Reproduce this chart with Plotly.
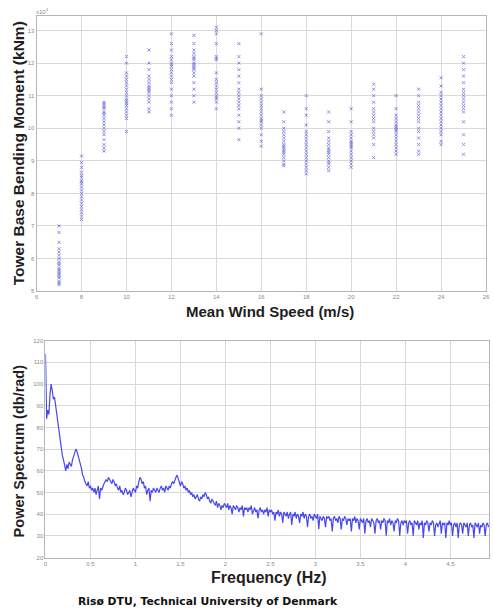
import numpy as np
import plotly.graph_objects as go

# ---- Tower base bending moment (x10^4 kNm) per mean wind speed bin ----
wind_speeds = [7, 8, 9, 10, 11, 12, 13, 14, 15, 16, 17, 18, 19, 20, 21, 22, 23, 24, 25]

moment_7 = [7.0, 6.8, 6.5, 6.3, 6.1, 6.0, 5.9, 5.8, 5.7, 5.6, 5.55, 5.5, 5.4, 5.3, 5.2, 5.25, 5.45, 5.65, 5.85, 6.2]
moment_8 = [9.15, 8.95, 8.8, 8.65, 8.5, 8.4, 8.3, 8.2, 8.1, 8.0, 7.9, 7.8, 7.7, 7.6, 7.5, 7.4, 7.3, 7.2, 8.55, 8.35]
moment_9 = [10.8, 10.75, 10.7, 10.6, 10.5, 10.4, 10.3, 10.2, 10.1, 10.0, 9.9, 9.8, 9.65, 9.5, 9.4, 9.3, 10.65, 10.45]
moment_10 = [12.2, 12.0, 11.7, 11.5, 11.4, 11.3, 11.2, 11.1, 11.0, 10.9, 10.8, 10.75, 10.7, 10.6, 10.5, 10.4, 10.3, 9.9, 11.6, 10.85]
moment_11 = [12.4, 12.0, 11.8, 11.6, 11.5, 11.4, 11.3, 11.2, 11.15, 11.1, 11.0, 10.9, 10.8, 10.6, 10.5, 11.25]
moment_12 = [12.9, 12.6, 12.4, 12.2, 12.1, 12.0, 11.95, 11.9, 11.8, 11.6, 11.4, 11.2, 11.0, 10.8, 10.6, 10.4, 11.5, 11.7]
moment_13 = [12.85, 12.6, 12.4, 12.3, 12.2, 12.1, 12.0, 11.95, 11.9, 11.85, 11.8, 11.7, 11.4, 11.2, 11.0, 10.8, 11.6, 12.15]
moment_14 = [13.1, 13.0, 12.9, 12.6, 12.2, 12.15, 12.1, 11.7, 11.4, 11.3, 11.2, 11.1, 11.0, 10.95, 10.9, 10.8, 10.6, 11.5]
moment_15 = [12.6, 12.2, 12.0, 11.8, 11.6, 11.4, 11.2, 11.1, 11.0, 10.9, 10.8, 10.6, 10.4, 10.2, 10.0, 9.65, 10.7]
moment_16 = [12.9, 11.2, 11.0, 10.9, 10.8, 10.7, 10.6, 10.5, 10.4, 10.3, 10.25, 10.2, 10.1, 10.0, 9.8, 9.6, 9.45]
moment_17 = [10.5, 10.2, 10.0, 9.9, 9.8, 9.7, 9.6, 9.5, 9.45, 9.4, 9.35, 9.3, 9.2, 9.1, 9.0, 8.9, 8.85, 9.25]
moment_18 = [11.0, 10.6, 10.4, 10.1, 9.9, 9.8, 9.7, 9.6, 9.5, 9.4, 9.3, 9.2, 9.1, 9.0, 8.9, 8.8, 8.7, 8.6]
moment_19 = [10.5, 10.2, 9.9, 9.7, 9.6, 9.5, 9.4, 9.35, 9.3, 9.25, 9.2, 9.1, 9.0, 8.95, 8.9, 8.8, 8.7]
moment_20 = [10.6, 10.2, 9.9, 9.8, 9.7, 9.6, 9.55, 9.5, 9.4, 9.3, 9.2, 9.1, 9.0, 8.9, 8.8, 9.45]
moment_21 = [11.35, 11.2, 11.0, 10.8, 10.6, 10.5, 10.4, 10.2, 10.0, 9.9, 9.8, 9.7, 9.5, 9.1, 10.3]
moment_22 = [11.0, 10.6, 10.4, 10.3, 10.2, 10.1, 10.05, 10.0, 9.95, 9.9, 9.8, 9.7, 9.6, 9.5, 9.4, 9.3, 9.2]
moment_23 = [11.2, 11.0, 10.8, 10.7, 10.6, 10.5, 10.4, 10.2, 10.0, 9.9, 9.7, 9.5, 9.3, 9.2, 10.3]
moment_24 = [11.55, 11.3, 11.1, 10.9, 10.8, 10.7, 10.6, 10.5, 10.4, 10.3, 10.2, 10.1, 10.0, 9.9, 9.8, 9.6, 9.5, 11.0]
moment_25 = [12.2, 12.0, 11.8, 11.6, 11.4, 11.2, 11.1, 11.0, 10.9, 10.8, 10.7, 10.6, 10.5, 10.2, 9.8, 9.5, 9.2]

moments_by_speed = [moment_7, moment_8, moment_9, moment_10, moment_11, moment_12, moment_13,
                    moment_14, moment_15, moment_16, moment_17, moment_18, moment_19, moment_20,
                    moment_21, moment_22, moment_23, moment_24, moment_25]

wind_ticks = [6, 8, 10, 12, 14, 16, 18, 20, 22, 24, 26]
moment_ticks = [5, 6, 7, 8, 9, 10, 11, 12, 13]

# ---- Power spectrum (dB/rad), sampled every 0.0125 Hz from 0 Hz ----
FREQ_STEP = 0.0125
spectrum_db = [
    # 0.0 - 0.5 Hz
    114, 84, 88, 86, 95, 100, 97, 93, 94, 90, 86, 82, 78, 74, 70, 67, 65, 62, 60, 63,
    61, 64, 63, 62, 65, 67, 68, 70, 69, 67, 66, 63, 61, 58, 57, 55, 54, 53, 55, 52,
    # 0.5 - 1.0 Hz
    53, 51, 52, 50, 52, 49, 51, 53, 47, 52, 51, 53, 54, 55, 56, 55, 57, 56, 55, 54,
    56, 55, 53, 54, 52, 51, 53, 50, 51, 49, 50, 52, 51, 49, 50, 51, 48, 50, 52, 51,
    # 1.0 - 1.5 Hz
    50, 53, 52, 55, 57, 56, 54, 55, 52, 53, 49, 51, 52, 46, 51, 50, 52, 51, 50, 52,
    51, 50, 52, 53, 51, 52, 50, 53, 52, 51, 53, 52, 54, 55, 54, 56, 57, 58, 56, 55,
    # 1.5 - 2.0 Hz
    53, 55, 54, 52, 53, 51, 52, 50, 51, 49, 50, 48, 49, 47, 48, 49, 47, 46, 48, 47,
    49, 48, 50, 49, 47, 48, 46, 45, 47, 46, 45, 44, 46, 43, 45, 44, 42, 44, 43, 45,
    # 2.0 - 2.5 Hz
    44, 43, 45, 42, 44, 43, 40, 44, 43, 42, 44, 43, 41, 43, 42, 44, 39, 43, 42, 43,
    41, 43, 42, 44, 40, 42, 43, 41, 42, 38, 42, 43, 41, 42, 40, 42, 41, 43, 39, 42,
    # 2.5 - 3.0 Hz
    41, 42, 40, 41, 37, 41, 40, 42, 39, 41, 40, 36, 41, 40, 39, 41, 38, 40, 41, 35,
    40, 39, 41, 38, 40, 39, 36, 40, 39, 41, 38, 40, 39, 34, 39, 40, 38, 39, 37, 40,
    # 3.0 - 3.5 Hz
    39, 38, 40, 33, 39, 38, 37, 39, 38, 34, 39, 38, 39, 37, 38, 32, 38, 39, 37, 38,
    36, 39, 38, 33, 38, 37, 39, 38, 35, 38, 37, 38, 32, 38, 37, 39, 36, 38, 37, 33,
    # 3.5 - 4.0 Hz
    38, 37, 36, 38, 31, 37, 38, 36, 37, 34, 38, 37, 36, 31, 37, 38, 36, 37, 33, 37,
    36, 38, 37, 30, 37, 36, 38, 35, 37, 36, 32, 37, 36, 38, 37, 30, 36, 37, 35, 37,
    # 4.0 - 4.5 Hz
    36, 37, 31, 36, 37, 35, 36, 30, 37, 36, 35, 37, 33, 36, 35, 37, 29, 36, 35, 37,
    36, 32, 36, 35, 37, 36, 30, 35, 36, 34, 36, 37, 31, 36, 35, 36, 29, 36, 35, 37,
    # 4.5 - 4.925 Hz
    35, 36, 30, 35, 36, 34, 36, 29, 35, 36, 35, 31, 36, 35, 34, 36, 30, 35, 36, 34,
    35, 29, 36, 35, 34, 36, 31, 35, 34, 36, 35, 30, 35, 36, 34,
]
frequency_hz = np.arange(len(spectrum_db)) * FREQ_STEP

freq_ticks = [0, 0.5, 1, 1.5, 2, 2.5, 3, 3.5, 4, 4.5]
freq_tick_text = ["0", "0.5", "1", "1.5", "2", "2.5", "3", "3.5", "4", "4.5"]
power_ticks = [20, 30, 40, 50, 60, 70, 80, 90, 100, 110, 120]

# ---- Figure ----
W, H = 493, 614
TEXT = "#1e1e1e"
GRID = "#d9d9d9"
TICKFONT = dict(family="Liberation Sans", size=6, color="#8a8a8a")

fig = go.Figure()

scatter_x, scatter_y = [], []
for ws, vals in zip(wind_speeds, moments_by_speed):
    scatter_x.extend([ws] * len(vals))
    scatter_y.extend(vals)

fig.add_trace(go.Scatter(
    x=scatter_x, y=scatter_y, mode="markers",
    marker=dict(symbol="x-thin-open", size=3, color="#4040d8",
                line=dict(width=1, color="#4040d8")),
    opacity=0.6, xaxis="x", yaxis="y", showlegend=False, hoverinfo="skip",
))

fig.add_trace(go.Scatter(
    x=frequency_hz, y=spectrum_db, mode="lines",
    line=dict(color="#2a2ae8", width=1.2),
    opacity=0.85, xaxis="x2", yaxis="y2", showlegend=False, hoverinfo="skip",
))


def px_x(p):
    return p / W


def px_y(p):
    return 1 - p / H


axis_common = dict(
    showgrid=True, gridcolor=GRID, gridwidth=1,
    showline=True, linecolor="#b5b5b5", linewidth=1, mirror=True,
    ticks="", tickfont=TICKFONT, zeroline=False,
)

fig.update_layout(
    width=W, height=H,
    margin=dict(l=0, r=0, t=0, b=0),
    paper_bgcolor="white", plot_bgcolor="white",
    xaxis=dict(domain=[px_x(35), px_x(490)], range=[5.999, 26.001], tickvals=wind_ticks,
               anchor="y", **axis_common),
    yaxis=dict(domain=[px_y(291), px_y(13)], range=[4.999, 13.45], tickvals=moment_ticks,
               anchor="x", **axis_common),
    xaxis2=dict(domain=[px_x(44), 1.0], range=[-0.0005, 4.93], tickvals=freq_ticks,
                ticktext=freq_tick_text, anchor="y2", **axis_common),
    yaxis2=dict(domain=[px_y(560), px_y(341)], range=[19.99, 120.01], tickvals=power_ticks,
                anchor="x2", **axis_common),
)

annotations = [
    dict(text="<b>Tower Base Bending Moment (kNm)</b>", x=px_x(17), y=px_y(152),
         textangle=-90, font=dict(family="Liberation Sans", size=15.5, color=TEXT)),
    dict(text="<b>Mean Wind Speed (m/s)</b>", x=px_x(271), y=px_y(312),
         font=dict(family="Liberation Sans", size=15, color=TEXT)),
    dict(text="x10<sup>4</sup>", x=px_x(41), y=px_y(8),
         font=dict(family="Liberation Sans", size=6, color="#8a8a8a")),
    dict(text="<b>Power Spectrum (db/rad)</b>", x=px_x(17), y=px_y(452),
         textangle=-90, font=dict(family="Liberation Sans", size=14.5, color=TEXT)),
    dict(text="<b>Frequency (Hz)</b>", x=px_x(270), y=px_y(580),
         font=dict(family="Liberation Sans", size=16, color=TEXT)),
    dict(text="<b>Risø DTU, Technical University of Denmark</b>", x=px_x(209), y=px_y(604),
         font=dict(family="DejaVu Sans", size=10.8, color="#111111")),
]
for a in annotations:
    a.update(xref="paper", yref="paper", showarrow=False, xanchor="center", yanchor="middle")
fig.update_layout(annotations=annotations)

fig.write_html("out.html")
